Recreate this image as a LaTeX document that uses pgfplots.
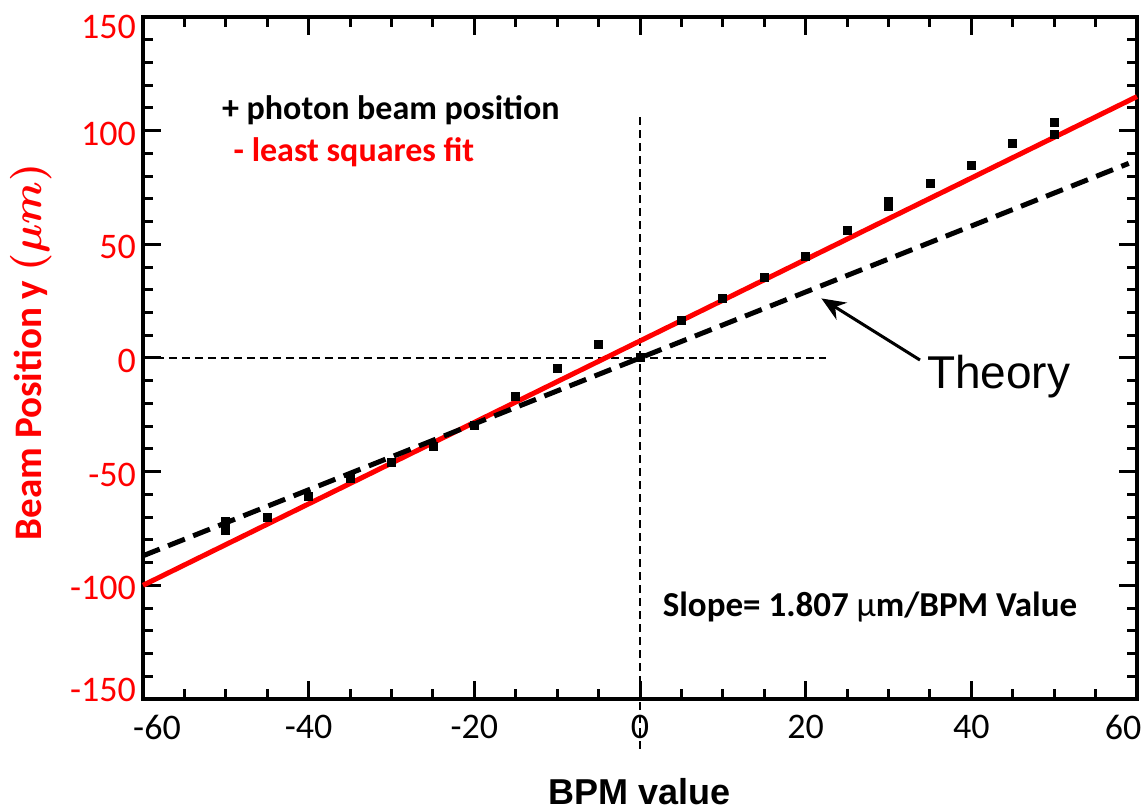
\documentclass[border=0pt]{standalone}
\usepackage{fontspec}
\setmainfont{Carlito}
\newfontfamily\arialfont{Liberation Sans}
\usepackage{pgfplots}
\pgfplotsset{compat=1.18}
\usetikzlibrary{arrows.meta}

% measured photon beam positions (BPM value, y in micrometres)
\pgfplotstableread{
x    y
-50  -72
-50  -76
-45  -70
-40  -61
-35  -53
-30  -46
-25  -39
-20  -29.5
-15  -17
-10  -4.6
-5   5.8
0    0.3
5    16.7
10   26.3
15   35.3
20   44.6
25   56.2
30   68.8
30   66.5
35   77
40   84.6
45   94.6
50   103.6
50   98.4
}\beamdata

\begin{document}
\begin{tikzpicture}
\begin{axis}[
  name=ax,
  scale only axis,
  width=497pt, height=341pt,
  xmin=-60, xmax=60, ymin=-150, ymax=150,
  xtick={-60,-40,-20,0,20,40,60},
  xticklabels={\hspace*{14pt}-60,-40,-20,0,20,40,60\hspace*{14pt}},
  ytick={-150,-100,-50,0,50,100,150},
  yticklabels={\raisebox{6pt}[\height][\depth]{-150},-100,-50,0,50,100,\raisebox{-3.5pt}[\height][\depth]{150}},
  minor xtick={-55,-50,...,55},
  minor ytick={-140,-130,...,140},
  tick align=inside,
  xtick pos=both, ytick pos=both,
  major tick length=9pt, minor tick length=5pt,
  every tick/.style={black, line width=1.5pt},
  axis line style={line width=2pt},
  tick label style={font=\fontsize{18}{20}\selectfont},
  xticklabel style={yshift=-4.5pt},
  yticklabel style={red, yshift=-1.5pt},
  clip=false,
]
% zero reference lines
\addplot[black, line width=1pt, dash pattern=on 4pt off 2.5pt] coordinates {(-60,0) (22.5,0)};
\addplot[black, line width=1pt, dash pattern=on 4pt off 2.5pt] coordinates {(0,106) (0,-173)};
% least squares fit
\addplot[red, line width=2.5pt] coordinates {(-60,-100) (60,115)};
% theoretical response
\addplot[black, line width=2.5pt, dash pattern=on 9pt off 4.5pt] coordinates {(-60,-87) (59,85.6)};
% measurements
\addplot[only marks, mark=square*, mark size=2pt, black] table[x=x, y=y] {\beamdata};

\draw[-{Stealth[length=12pt,width=10pt]}, line width=1.5pt] (axis cs:33.8,-0.9) -- (axis cs:21.9,26.2);
\node[anchor=west, inner sep=0, font=\arialfont\fontsize{23}{26}\selectfont] at (axis cs:34.6,-8.4) {Theory};

\node[anchor=west, inner sep=0, font=\bfseries\fontsize{17}{20}\selectfont] at (axis cs:-50.5,109) {+ photon beam position};
\node[anchor=west, inner sep=0, red, font=\bfseries\fontsize{17}{20}\selectfont] at (axis cs:-49.1,90.6) {- least squares fit};
\node[anchor=west, inner sep=0, font=\bfseries\fontsize{17.5}{20}\selectfont] at (axis cs:2.7,-109.5) {Slope= 1.807 {\mdseries μ}m/BPM Value};

\node[rotate=90, red, inner sep=0, font=\bfseries\boldmath\fontsize{19.5}{22}\selectfont] at ([xshift=-56pt]rel axis cs:0,0.509) {Beam Position y $(\mu m)$};
\node[inner sep=0, font=\arialfont\bfseries\fontsize{18}{20}\selectfont] at ([yshift=-46.5pt]axis cs:0,-150) {BPM value};
\end{axis}
\pgfresetboundingbox
\path[use as bounding box] ([shift={(-71.5pt,-56.5pt)}]ax.south west) rectangle ([shift={(5pt,8.5pt)}]ax.north east);
\end{tikzpicture}
\end{document}
